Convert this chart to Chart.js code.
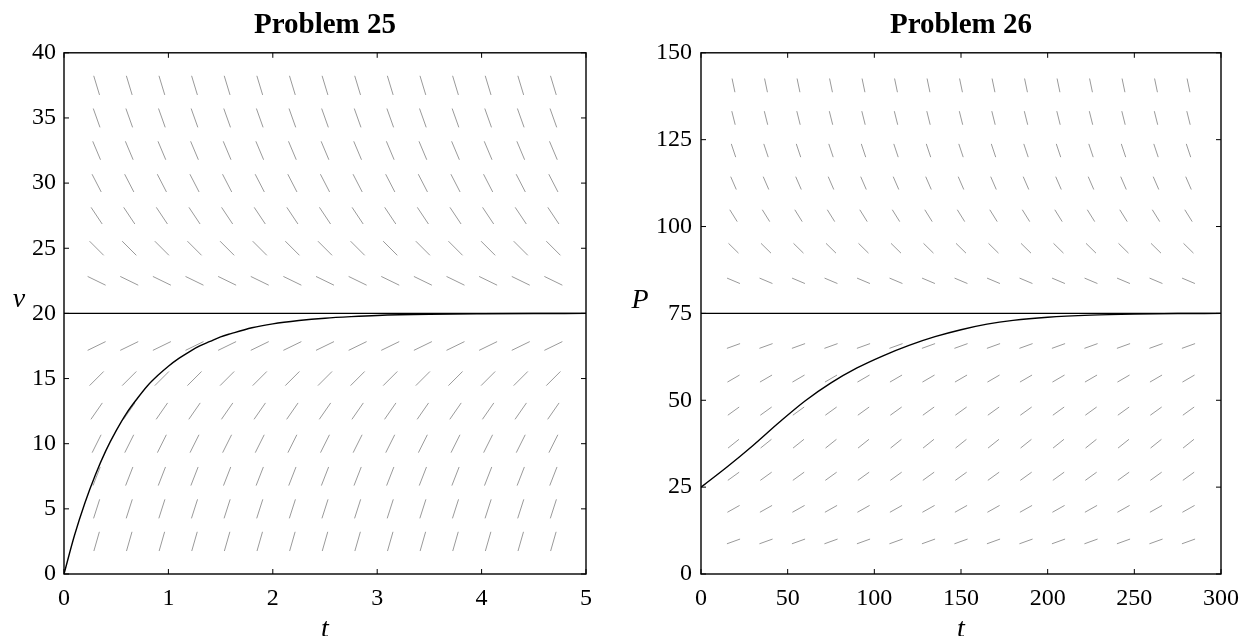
<!DOCTYPE html>
<html>
<head>
<meta charset="utf-8">
<script src="https://cdn.jsdelivr.net/npm/chart.js@4.4.1/dist/chart.umd.min.js"></script>
<style>
  html, body { margin: 0; padding: 0; background: #fff; overflow: hidden; }
  .wrap { position: absolute; top: 0; width: 622px; height: 660px; }
  #w25 { left: 0; }
  #w26 { left: 622px; }
</style>
</head>
<body>
<div class="wrap" id="w25"><canvas id="c25"></canvas></div>
<div class="wrap" id="w26"><canvas id="c26"></canvas></div>
<script>
// Problem 25: solution curve
const t25 = [0, 0.1, 0.2, 0.3, 0.4, 0.5, 0.6, 0.7, 0.8, 0.9, 1.0, 1.1, 1.2, 1.3, 1.4, 1.5, 1.6, 1.8, 2.0, 2.25, 2.5, 2.75, 3.0, 3.5, 4.0, 4.5, 5.0];
const v25 = [0, 2.95, 5.45, 7.6, 9.45, 11.0, 12.35, 13.45, 14.45, 15.25, 15.95, 16.55, 17.05, 17.5, 17.85, 18.2, 18.45, 18.9, 19.2, 19.45, 19.63, 19.75, 19.84, 19.93, 19.97, 19.99, 20.0];
const eq25 = 20;
// direction field (grid + slope dv/dt per row)
const fieldT25 = [0.3125, 0.625, 0.9375, 1.25, 1.5625, 1.875, 2.1875, 2.5, 2.8125, 3.125, 3.4375, 3.75, 4.0625, 4.375, 4.6875];
const fieldV25 = [2.5, 5, 7.5, 10, 12.5, 15, 17.5, 22.5, 25, 27.5, 30, 32.5, 35, 37.5];
const slope25 = [28, 25, 20.5, 16, 11.5, 8, 3.9, -3.9, -8, -12, -15.5, -19, -22.5, -26.5];
const xTicks25 = [0, 1, 2, 3, 4, 5];
const yTicks25 = [0, 5, 10, 15, 20, 25, 30, 35, 40];

// Problem 26
const t26 = [0, 15, 30, 45, 60, 75, 90, 105, 120, 135, 150, 165, 180, 200, 225, 250, 275, 300];
const p26 = [25, 30.8, 37.0, 43.6, 49.8, 55.0, 59.3, 62.8, 65.8, 68.3, 70.3, 71.9, 73.0, 73.9, 74.5, 74.8, 74.95, 75];
const eq26 = 75;
const fieldT26 = [18.75, 37.5, 56.25, 75, 93.75, 112.5, 131.25, 150, 168.75, 187.5, 206.25, 225, 243.75, 262.5, 281.25];
const fieldP26 = [9.375, 18.75, 28.125, 37.5, 46.875, 56.25, 65.625, 84.375, 93.75, 103.125, 112.5, 121.875, 131.25, 140.625];
const slope26 = [0.18, 0.28, 0.36, 0.40, 0.36, 0.29, 0.18, -0.21, -0.49, -0.80, -1.15, -1.5, -2.0, -2.4];
const xTicks26 = [0, 50, 100, 150, 200, 250, 300];
const yTicks26 = [0, 25, 50, 75, 100, 125, 150];

const serif = '"Liberation Serif", "Times New Roman", serif';

function slopeField(cols, rows, slopes, len) {
  return {
    id: 'slopeField',
    beforeDatasetsDraw(chart) {
      const { ctx, scales: { x, y } } = chart;
      const pxT = x.getPixelForValue(1) - x.getPixelForValue(0);
      const pxV = y.getPixelForValue(0) - y.getPixelForValue(1);
      ctx.save();
      ctx.strokeStyle = '#9a9a9a';
      ctx.lineWidth = 1;
      ctx.beginPath();
      rows.forEach((row, i) => {
        let dx = pxT, dy = -slopes[i] * pxV;
        const n = Math.hypot(dx, dy);
        dx *= len / 2 / n;
        dy *= len / 2 / n;
        cols.forEach(col => {
          const cx = x.getPixelForValue(col), cy = y.getPixelForValue(row);
          ctx.moveTo(cx - dx, cy - dy);
          ctx.lineTo(cx + dx, cy + dy);
        });
      });
      ctx.stroke();
      ctx.restore();
    }
  };
}

function frame(xTicks, yTicks, letter, lx, ly) {
  return {
    id: 'frame',
    afterDraw(chart) {
      const { ctx, chartArea: a, scales: { x, y } } = chart;
      ctx.save();
      ctx.strokeStyle = '#000';
      ctx.lineWidth = 1.4;
      ctx.strokeRect(a.left, a.top, a.right - a.left, a.bottom - a.top);
      ctx.lineWidth = 1;
      ctx.beginPath();
      xTicks.forEach(v => {
        const p = x.getPixelForValue(v);
        ctx.moveTo(p, a.bottom); ctx.lineTo(p, a.bottom - 5);
        ctx.moveTo(p, a.top); ctx.lineTo(p, a.top + 5);
      });
      yTicks.forEach(v => {
        const p = y.getPixelForValue(v);
        ctx.moveTo(a.left, p); ctx.lineTo(a.left + 5, p);
        ctx.moveTo(a.right, p); ctx.lineTo(a.right - 5, p);
      });
      ctx.stroke();
      ctx.fillStyle = '#000';
      ctx.font = 'italic 28px ' + serif;
      ctx.textAlign = 'center';
      ctx.textBaseline = 'alphabetic';
      ctx.fillText(letter, lx, ly);
      ctx.restore();
    }
  };
}

function makeChart(id, o) {
  return new Chart(document.getElementById(id), {
    type: 'scatter',
    data: {
      datasets: [
        {
          data: o.ts.map((t, i) => ({ x: t, y: o.vs[i] })),
          showLine: true, borderColor: '#000', borderWidth: 1.4,
          pointRadius: 0, cubicInterpolationMode: 'monotone'
        },
        {
          data: [{ x: o.xTicks[0], y: o.eq }, { x: o.xTicks[o.xTicks.length - 1], y: o.eq }],
          showLine: true, borderColor: '#000', borderWidth: 1.3, pointRadius: 0
        }
      ]
    },
    options: {
      responsive: true,
      maintainAspectRatio: false,
      animation: false,
      events: [],
      layout: { padding: { left: 0, right: o.padRight, top: 0, bottom: 0 } },
      plugins: {
        legend: { display: false },
        tooltip: { enabled: false },
        title: {
          display: true, text: o.title, color: '#000', fullSize: false,
          font: { family: serif, size: 29, weight: 'bold' },
          padding: { top: 8, bottom: 10 }
        }
      },
      scales: {
        x: {
          type: 'linear', min: o.xTicks[0], max: o.xTicks[o.xTicks.length - 1],
          afterBuildTicks: s => { s.ticks = o.xTicks.map(v => ({ value: v })); },
          afterFit: s => { s.height = 86; s.paddingLeft = 0; s.paddingRight = 0; },
          grid: { display: false, drawTicks: false },
          border: { display: false },
          ticks: { color: '#000', font: { family: serif, size: 24 }, padding: 10, maxRotation: 0, autoSkip: false },
          title: { display: true, text: 't', color: '#000', font: { family: serif, size: 28, style: 'italic' }, padding: { top: 0, bottom: 14 } }
        },
        y: {
          type: 'linear', min: o.yTicks[0], max: o.yTicks[o.yTicks.length - 1],
          afterBuildTicks: s => { s.ticks = o.yTicks.map(v => ({ value: v })); },
          afterFit: s => { s.width = o.yWidth; s.paddingTop = 0; s.paddingBottom = 0; },
          grid: { display: false, drawTicks: false },
          border: { display: false },
          ticks: { color: '#000', font: { family: serif, size: 24 }, padding: o.yPad, autoSkip: false }
        }
      }
    },
    plugins: [slopeField(o.fieldT, o.fieldY, o.slopes, o.segLen), frame(o.xTicks, o.yTicks, o.letter, o.lx, o.ly)]
  });
}

makeChart('c25', {
  title: 'Problem 25', ts: t25, vs: v25, eq: eq25,
  fieldT: fieldT25, fieldY: fieldV25, slopes: slope25, segLen: 20,
  xTicks: xTicks25, yTicks: yTicks25, letter: 'v', lx: 19, ly: 307,
  yWidth: 64, yPad: 8, padRight: 36
});

makeChart('c26', {
  title: 'Problem 26', ts: t26, vs: p26, eq: eq26,
  fieldT: fieldT26, fieldY: fieldP26, slopes: slope26, segLen: 14,
  xTicks: xTicks26, yTicks: yTicks26, letter: 'P', lx: 18, ly: 308,
  yWidth: 79, yPad: 9, padRight: 23
});
</script>
</body>
</html>
